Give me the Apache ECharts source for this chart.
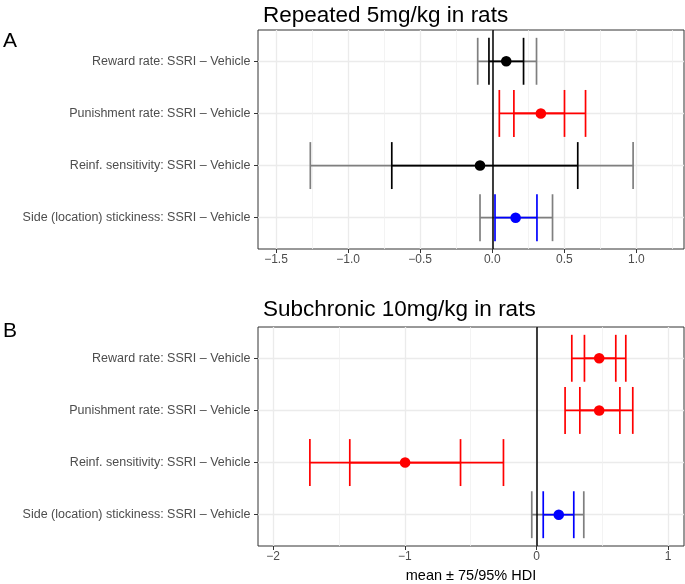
<!DOCTYPE html>
<html>
<head>
<meta charset="utf-8">
<script src="https://cdn.jsdelivr.net/npm/echarts@6.0.0/dist/echarts.min.js"></script>
<style>html,body{margin:0;padding:0;background:#fff}#chart{width:685px;height:584px}</style>
</head>
<body>
<div id="chart"></div>
<script>
var FONT = '"Liberation Sans", Arial, Helvetica, sans-serif';

// contrasts, top to bottom
var contrasts = [
    'Reward rate: SSRI \u2013 Vehicle',
    'Punishment rate: SSRI \u2013 Vehicle',
    'Reinf. sensitivity: SSRI \u2013 Vehicle',
    'Side (location) stickiness: SSRI \u2013 Vehicle'
];

// A: repeated 5mg/kg
var repMean = [0.097, 0.337, -0.085, 0.162];
var repLo95 = [-0.101, 0.049, -1.262, -0.085];
var repLo75 = [-0.023, 0.150, -0.697, 0.019];
var repHi75 = [0.217, 0.501, 0.593, 0.310];
var repHi95 = [0.307, 0.647, 0.977, 0.418];
var repTicks = [-1.5, -1, -0.5, 0, 0.5, 1];
var repMinor = [-1.25, -0.75, -0.25, 0.25, 0.75, 1.25];

// B: subchronic 10mg/kg
var subMean = [0.476, 0.476, -0.998, 0.169];
var subLo95 = [0.268, 0.217, -1.721, -0.036];
var subLo75 = [0.364, 0.329, -1.418, 0.051];
var subHi75 = [0.602, 0.633, -0.577, 0.283];
var subHi95 = [0.678, 0.731, -0.251, 0.359];
var subTicks = [-2, -1, 0, 1];
var subMinor = [-1.5, -0.5, 0.5];

var rowPos = [1, 2, 3, 4];

function rows(lo95, lo75, mean, hi75, hi95) {
    return mean.map(function (m, i) {
        return [rowPos[i], lo95[i], lo75[i], m, hi75[i], hi95[i]];
    });
}

// red if 95% HDI excludes 0, blue if only the 75% does
function colorsFor(lo95, lo75, hi75, hi95) {
    if (lo95 > 0 || hi95 < 0) return ['#ff0000', '#ff0000'];
    if (lo75 > 0 || hi75 < 0) return ['#7f7f7f', '#0000ff'];
    return ['#7f7f7f', '#000000'];
}

function renderBar(params, api) {
    var y = api.value(0),
        lo95 = api.value(1), lo75 = api.value(2), m = api.value(3),
        hi75 = api.value(4), hi95 = api.value(5),
        cols = colorsFor(lo95, lo75, hi75, hi95),
        half = Math.abs(api.size([0, 0.45])[1]),
        a = api.coord([lo95, y]), b = api.coord([lo75, y]),
        c = api.coord([m, y]), d = api.coord([hi75, y]), e = api.coord([hi95, y]);

    function seg(x1, y1, x2, y2, col) {
        return {type: 'line', shape: {x1: x1, y1: y1, x2: x2, y2: y2},
            style: {stroke: col, lineWidth: 1.7}};
    }
    return {
        type: 'group',
        children: [
            seg(a[0], a[1], e[0], e[1], cols[0]),
            seg(a[0], a[1] - half, a[0], a[1] + half, cols[0]),
            seg(e[0], e[1] - half, e[0], e[1] + half, cols[0]),
            seg(b[0], b[1], d[0], d[1], cols[1]),
            seg(b[0], b[1] - half, b[0], b[1] + half, cols[1]),
            seg(d[0], d[1] - half, d[0], d[1] + half, cols[1]),
            {type: 'circle', shape: {cx: c[0], cy: c[1], r: 5.3}, style: {fill: cols[1]}}
        ]
    };
}

function fmtMinus(s) {
    return s.replace('-', '\u2212');
}

function mainX(grid, min, max, ticks, digits) {
    return {
        type: 'value', gridIndex: grid, min: min, max: max, position: 'bottom',
        axisLine: {show: false, onZero: false},
        axisTick: {show: true, length: 4, customValues: ticks, lineStyle: {color: '#333'}},
        axisLabel: {customValues: ticks, margin: 5, color: '#4d4d4d', fontSize: 12, fontFamily: FONT,
            formatter: function (v) { return fmtMinus(v.toFixed(digits)); }},
        splitLine: {show: true, lineStyle: {color: '#ebebeb', width: 1.3}}
    };
}

function minorX(grid, min, max, ticks) {
    return {
        type: 'value', gridIndex: grid, min: min, max: max, position: 'top',
        axisLine: {show: false, onZero: false},
        axisTick: {show: false, customValues: ticks},
        axisLabel: {show: false, customValues: ticks},
        splitLine: {show: true, lineStyle: {color: '#f0f0f0', width: 0.8}}
    };
}

function catY(grid) {
    return {
        type: 'value', gridIndex: grid, min: 0.4, max: 4.6, inverse: true, position: 'left',
        axisLine: {show: false, onZero: false},
        axisTick: {show: true, length: 4, customValues: rowPos, lineStyle: {color: '#333'}},
        axisLabel: {customValues: rowPos, margin: 7.5, color: '#4d4d4d', fontSize: 12.5, fontFamily: FONT,
            formatter: function (v) { return contrasts[Math.round(v) - 1]; }},
        splitLine: {show: true, lineStyle: {color: '#ebebeb', width: 1.3}}
    };
}

function titleAt(text, left, top, size) {
    return {text: text, left: left, top: top, padding: 0,
        textStyle: {fontSize: size, fontWeight: 'normal', color: '#000', fontFamily: FONT}};
}

var zeroLine = {
    silent: true, symbol: 'none', label: {show: false},
    lineStyle: {color: '#000', width: 1.5, type: 'solid'},
    data: [{xAxis: 0}]
};

var chart = echarts.init(document.getElementById('chart'));

var xB = mainX(1, -2.115, 1.12, subTicks, 0);
xB.name = 'mean \u00b1 75/95% HDI';
xB.nameLocation = 'middle';
xB.nameGap = 22;
xB.nameTextStyle = {fontSize: 14.5, color: '#000', fontFamily: FONT};

chart.setOption({
    animation: false,
    backgroundColor: '#fff',
    title: [
        titleAt('A', 3, 31, 21),
        titleAt('Repeated 5mg/kg in rats', 263, 4, 22.5),
        titleAt('B', 3, 321, 21),
        titleAt('Subchronic 10mg/kg in rats', 263, 298, 22.5)
    ],
    grid: [
        {left: 258, top: 30, right: 1, height: 219, show: true, borderColor: '#333', borderWidth: 1, backgroundColor: '#fff'},
        {left: 258, top: 327, right: 1, height: 220, show: true, borderColor: '#333', borderWidth: 1, backgroundColor: '#fff'}
    ],
    xAxis: [
        minorX(0, -1.625, 1.33, repMinor),
        mainX(0, -1.625, 1.33, repTicks, 1),
        minorX(1, -2.115, 1.12, subMinor),
        xB
    ],
    yAxis: [catY(0), catY(1)],
    series: [
        {
            type: 'custom', xAxisIndex: 1, yAxisIndex: 0,
            renderItem: renderBar,
            encode: {x: [1, 2, 3, 4, 5], y: 0},
            data: rows(repLo95, repLo75, repMean, repHi75, repHi95),
            markLine: zeroLine
        },
        {
            type: 'custom', xAxisIndex: 3, yAxisIndex: 1,
            renderItem: renderBar,
            encode: {x: [1, 2, 3, 4, 5], y: 0},
            data: rows(subLo95, subLo75, subMean, subHi75, subHi95),
            markLine: zeroLine
        }
    ]
});
</script>
</body>
</html>
